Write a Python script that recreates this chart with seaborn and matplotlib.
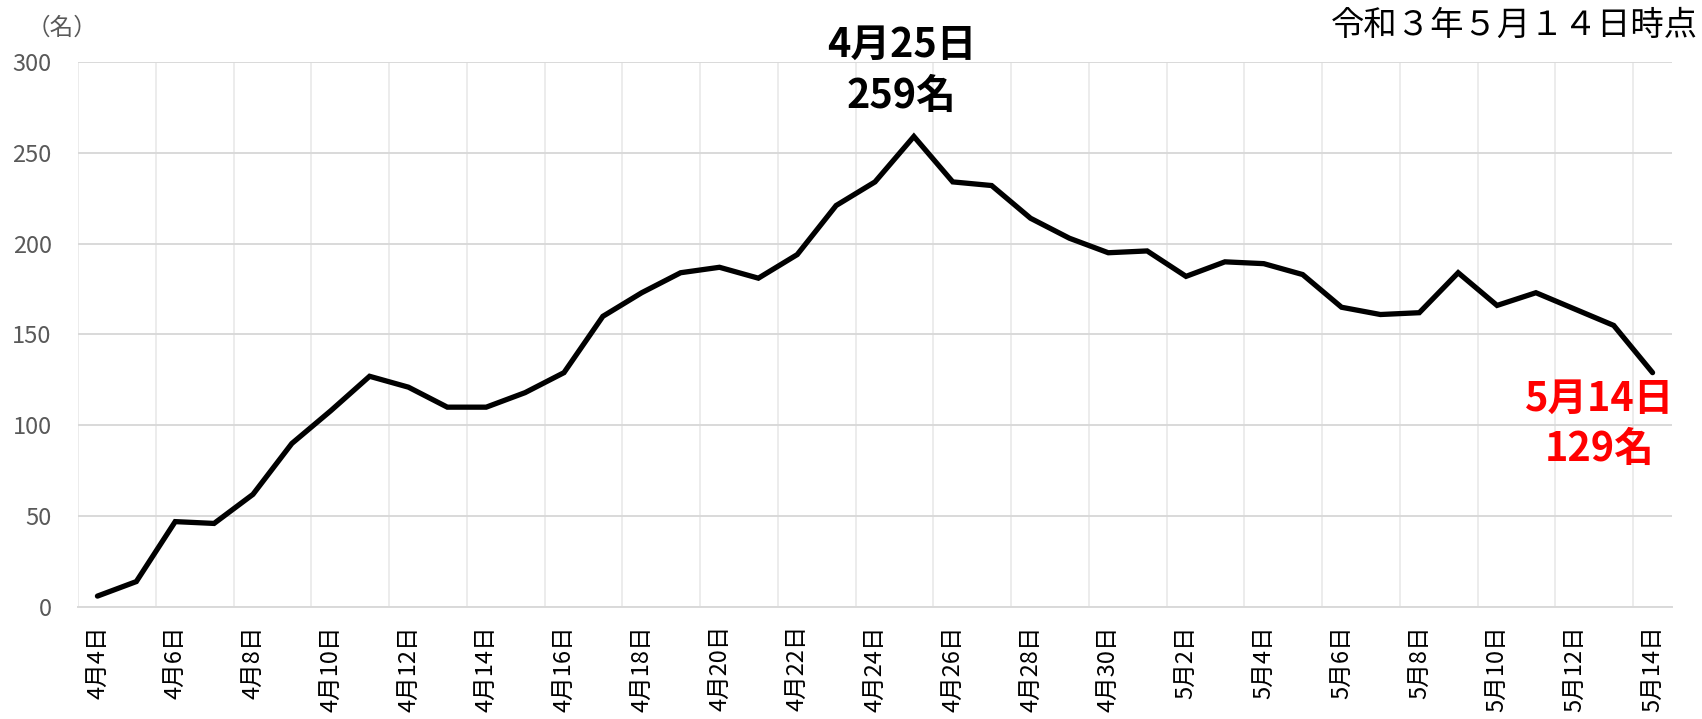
import numpy as np
import pandas as pd
import matplotlib
matplotlib.use("Agg")
import matplotlib.pyplot as plt
import seaborn as sns
from matplotlib.ticker import FixedLocator

# Daily counts, 4/4 .. 5/14 (令和3年)
months = [4] * 27 + [5] * 14
days = list(range(4, 31)) + list(range(1, 15))
cases = [6, 14, 47, 46, 62, 90, 108, 127, 121, 110, 110, 118, 129, 160,
         173, 184, 187, 181, 194, 221, 234, 259, 234, 232, 214, 203, 195,
         196, 182, 190, 189, 183, 165, 161, 162, 184, 166, 173, 164, 155, 129]
date_labels = [f"{m}月{d}日" for m, d in zip(months, days)]
y_ticks = [0, 50, 100, 150, 200, 250, 300]

title_text = "令和３年５月１４日時点"
unit_text = "（名）"

sns.set_theme(style="white")
plt.rcParams["font.family"] = ["Noto Sans CJK JP", "DejaVu Sans"]

W, H = 1702, 719
fig = plt.figure(figsize=(W / 100, H / 100), dpi=100)
fig.patch.set_facecolor("white")
ax = fig.add_axes([78 / W, (H - 607) / H, (1672 - 78) / W, (607 - 62) / H])

df = pd.DataFrame({"pos": np.arange(len(cases)), "label": date_labels,
                   "cases": cases})
sns.lineplot(data=df, x="pos", y="cases", color="black", linewidth=3.8,
             ax=ax, solid_capstyle="round", solid_joinstyle="miter")

n = len(cases)
ax.set_xlim(-0.5, n - 0.5)
ax.set_ylim(y_ticks[0], y_ticks[-1])
ax.set_yticks(y_ticks)
ax.set_xticks(df["pos"][::2])
ax.set_xticklabels(df["label"][::2], rotation=90)
ax.xaxis.set_minor_locator(FixedLocator(np.arange(-0.5, n - 1, 2)))
ax.set_xlabel("")
ax.set_ylabel("")

ax.grid(axis="y", which="major", color="#d9d9d9", linewidth=1.4)
ax.grid(axis="x", which="minor", color="#ececec", linewidth=1.4)
ax.grid(axis="x", which="major", visible=False)
ax.set_axisbelow(True)

for side in ["top", "right", "left"]:
    ax.spines[side].set_visible(False)
ax.spines["bottom"].set_color("#d9d9d9")
ax.spines["bottom"].set_linewidth(1.4)

ax.tick_params(axis="x", which="major", length=0, pad=13, labelsize=17,
               labelcolor="black")
ax.tick_params(axis="x", which="minor", length=6, width=1.4,
               color="#d9d9d9")
ax.tick_params(axis="y", length=0, pad=19, labelsize=17,
               labelcolor="#595959")

# Peak annotation
pk = int(np.argmax(cases))
ax.annotate(f"{months[pk]}月{days[pk]}日\n{cases[pk]}名",
            xy=(pk, cases[pk]), xytext=(-12, 20), textcoords="offset pixels",
            ha="center", va="bottom", fontsize=28.5, fontweight="bold",
            color="black", linespacing=1.3)

# Latest value annotation
lt = n - 1
ax.annotate(f"{months[lt]}月{days[lt]}日\n{cases[lt]}名",
            xy=(lt, cases[lt]), xytext=(-53, -6), textcoords="offset pixels",
            ha="center", va="top", fontsize=28.5, fontweight="bold",
            color="#ff0000", linespacing=1.3)

fig.text(1698 / W, 1 - 25 / H, title_text, ha="right", va="center",
         fontsize=24, color="black")
fig.text(62 / W, 1 - 28 / H, unit_text, ha="center", va="center",
         fontsize=17, color="#595959")

fig.savefig("out.png", dpi=100, facecolor="white")
